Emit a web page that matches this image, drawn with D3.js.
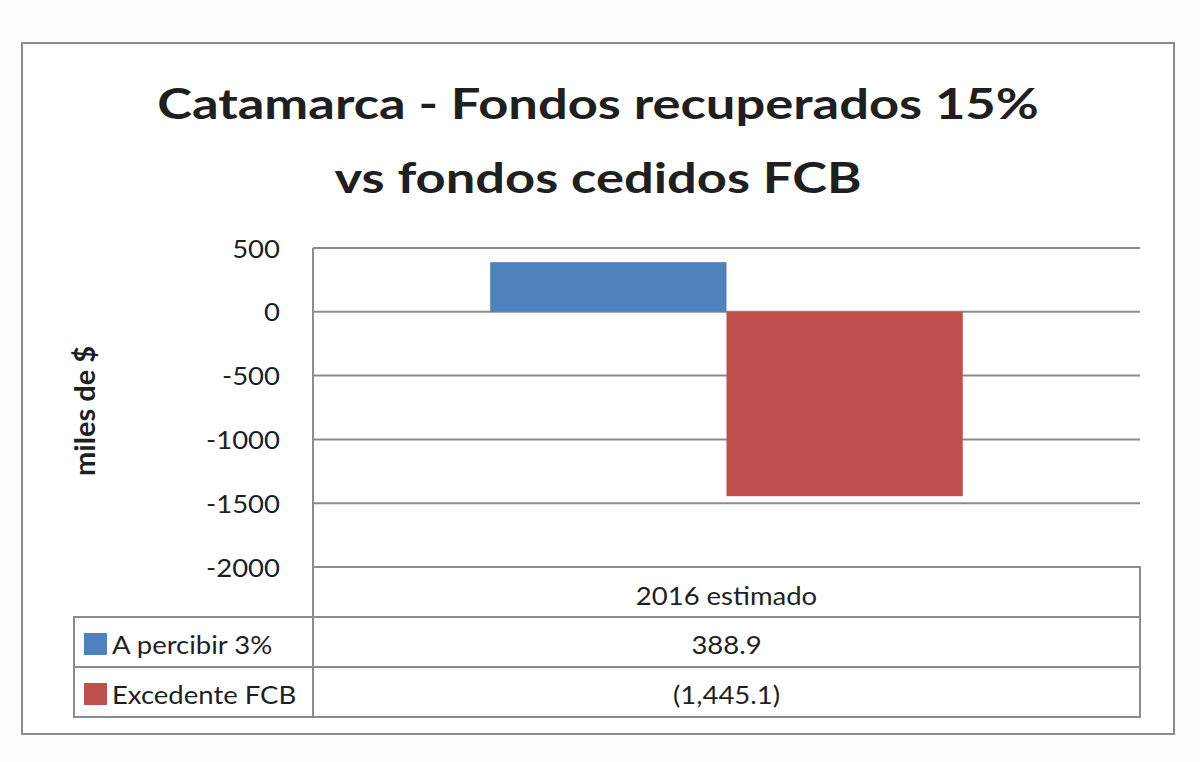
<!DOCTYPE html>
<html>
<head>
<meta charset="utf-8">
<script src="https://cdn.jsdelivr.net/npm/d3@7"></script>
<style>
  body { margin: 0; background: #fdfdfd; }
  svg { display: block; }
  text { font-family: Lato, "Open Sans", sans-serif; fill: #1f1f1f; }
</style>
</head>
<body>
<svg id="chart" width="1200" height="762"></svg>
<script>
// data
const categories = ["2016 estimado"];
const seriesNames = ["A percibir 3%", "Excedente FCB"];
const seriesValues = [388.9, -1445.1];
const seriesColors = ["#4F81BD", "#C0504D"];
const yTicks = [500, 0, -500, -1000, -1500, -2000];
const titleLines = ["Catamarca - Fondos recuperados 15%", "vs fondos cedidos FCB"];
const yLabel = "miles de $";

const svg = d3.select("#chart");

// layout
const frame = {left: 22, top: 43, right: 1174, bottom: 734};
const plot = {left: 313, right: 1140, top: 248, bottom: 567};
const rowH = 50;
const tableLeft = 74;
const lineColor = "#8c8c8c";
const textSx = 1.1;     // the source font (Calibri) runs wider than Lato
const titleSx = 1.25;

svg.append("rect")
    .attr("x", frame.left).attr("y", frame.top)
    .attr("width", frame.right - frame.left)
    .attr("height", frame.bottom - frame.top)
    .attr("fill", "#fff")
    .attr("stroke", lineColor)
    .attr("stroke-width", 2);

// title
svg.append("g").attr("class", "title")
    .selectAll("text")
    .data(titleLines)
    .join("text")
    .attr("transform", (d, i) => `translate(${(frame.left + frame.right) / 2}, ${119 + i * 74}) scale(${titleSx}, 1)`)
    .attr("text-anchor", "middle")
    .attr("font-size", 42)
    .attr("font-weight", "bold")
    .attr("fill", "#000")
    .text(d => d);

// scales
const yScale = d3.scaleLinear()
    .domain([d3.min(yTicks), d3.max(yTicks)])
    .range([plot.bottom, plot.top]);

const x0 = d3.scaleBand()
    .domain(categories)
    .range([plot.left, plot.right]);

const x1 = d3.scaleBand()
    .domain(seriesNames)
    .range([0, x0.bandwidth()])
    .paddingInner(0)
    .paddingOuter(0.75);

// gridlines
svg.append("g").attr("class", "grid")
    .selectAll("line")
    .data(yTicks)
    .join("line")
    .attr("x1", plot.left).attr("x2", plot.right)
    .attr("y1", d => yScale(d)).attr("y2", d => yScale(d))
    .attr("stroke", lineColor)
    .attr("stroke-width", 2);

// y axis
const y_axis = d3.axisLeft(yScale)
    .tickValues(yTicks)
    .tickFormat(d => String(d))
    .tickSize(0)
    .tickPadding(33);
const yAxisG = svg.append("g").attr("class", "axis")
    .attr("transform", `translate(${plot.left}, 0)`)
    .call(y_axis);
yAxisG.select(".domain").remove();
yAxisG.selectAll("text")
    .attr("x", -33 / textSx)
    .attr("dy", "0.36em")
    .attr("transform", `scale(${textSx}, 1)`)
    .attr("font-size", 25)
    .attr("font-family", "Lato, sans-serif")
    .attr("fill", "#1f1f1f");

// y label
svg.append("text")
    .attr("transform", `translate(${95}, ${411}) rotate(270)`)
    .attr("text-anchor", "middle")
    .attr("font-size", 29)
    .attr("font-weight", "bold")
    .attr("fill", "#000")
    .text(yLabel);

// bars
const catG = svg.append("g").attr("class", "bars")
    .selectAll("g")
    .data(categories)
    .join("g")
    .attr("transform", d => `translate(${x0(d)}, 0)`);

catG.selectAll("rect")
    .data(seriesNames.map((s, i) => ({name: s, value: seriesValues[i], color: seriesColors[i]})))
    .join("rect")
    .attr("x", d => x1(d.name))
    .attr("width", x1.bandwidth())
    .attr("y", d => yScale(Math.max(0, d.value)))
    .attr("height", d => Math.abs(yScale(d.value) - yScale(0)))
    .attr("fill", d => d.color);

// data table
const tbl = svg.append("g").attr("class", "table");

// header row (category)
tbl.append("rect")
    .attr("x", plot.left).attr("y", plot.bottom)
    .attr("width", plot.right - plot.left).attr("height", rowH)
    .attr("fill", "none").attr("stroke", lineColor).attr("stroke-width", 2);

tbl.selectAll(".cat")
    .data(categories)
    .join("text")
    .attr("class", "cat")
    .attr("transform", d => `translate(${x0(d) + x0.bandwidth() / 2}, ${plot.bottom + 38}) scale(${textSx}, 1)`)
    .attr("text-anchor", "middle")
    .attr("font-size", 25)
    .text(d => d);

// series rows
const fmt = d3.format(",.1f");
const rows = tbl.selectAll(".row")
    .data(seriesNames.map((s, i) => ({name: s, value: seriesValues[i], color: seriesColors[i], i})))
    .join("g")
    .attr("class", "row")
    .attr("transform", d => `translate(0, ${plot.bottom + rowH * (d.i + 1)})`);

rows.append("rect")
    .attr("x", tableLeft).attr("y", 0)
    .attr("width", plot.right - tableLeft).attr("height", rowH)
    .attr("fill", "none").attr("stroke", lineColor).attr("stroke-width", 2);

rows.append("rect")
    .attr("x", 84).attr("y", 16)
    .attr("width", 23).attr("height", 22)
    .attr("fill", d => d.color);

rows.append("text")
    .attr("transform", `translate(112, 37) scale(${textSx}, 1)`)
    .attr("font-size", 25)
    .text(d => d.name);

rows.append("text")
    .attr("transform", `translate(${x0(categories[0]) + x0.bandwidth() / 2}, 37) scale(${textSx}, 1)`)
    .attr("text-anchor", "middle")
    .attr("font-size", 25)
    .text(d => d.value < 0 ? `(${fmt(-d.value)})` : fmt(d.value));

// vertical divider between legend column and values
tbl.append("line")
    .attr("x1", plot.left).attr("x2", plot.left)
    .attr("y1", plot.top).attr("y2", plot.bottom + rowH * 3)
    .attr("stroke", lineColor).attr("stroke-width", 2);
</script>
</body>
</html>
